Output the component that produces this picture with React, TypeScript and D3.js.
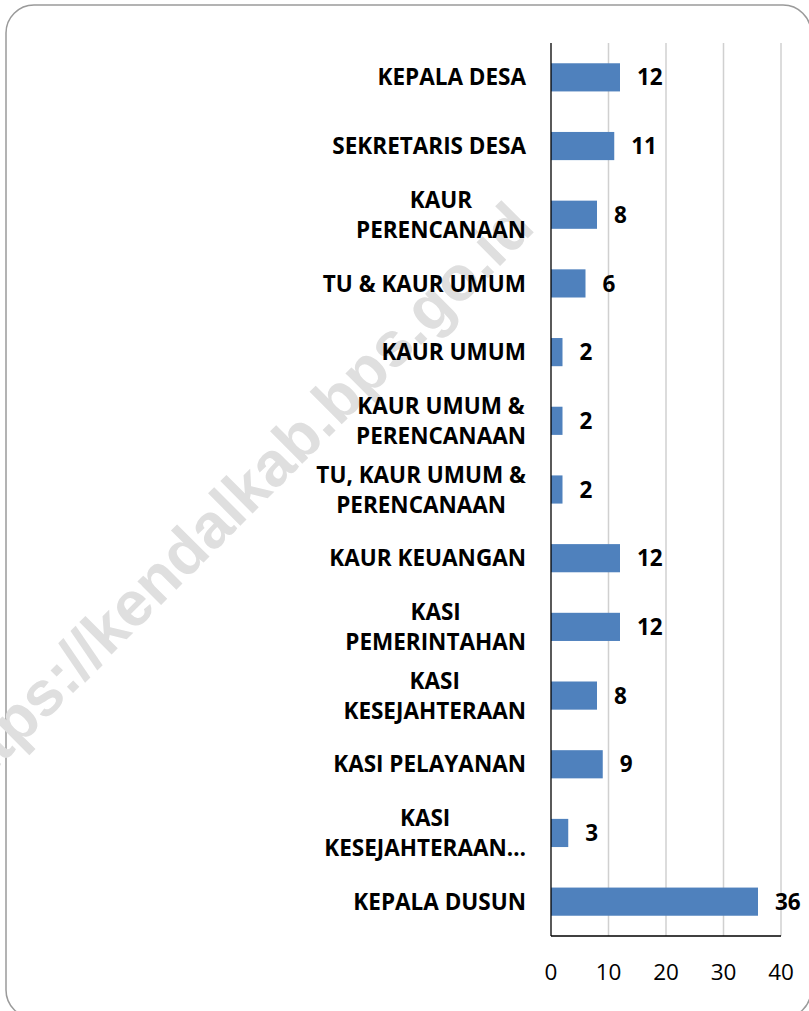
import React, { useEffect, useRef } from "react";
import * as d3 from "d3";

const categories = [
  "KEPALA DESA",
  "SEKRETARIS DESA",
  "KAUR PERENCANAAN",
  "TU & KAUR UMUM",
  "KAUR UMUM",
  "KAUR UMUM & PERENCANAAN",
  "TU, KAUR UMUM & PERENCANAAN",
  "KAUR KEUANGAN",
  "KASI PEMERINTAHAN",
  "KASI KESEJAHTERAAN",
  "KASI PELAYANAN",
  "KASI KESEJAHTERAAN…",
  "KEPALA DUSUN",
];

const labelLines: string[][] = [
  ["KEPALA DESA"],
  ["SEKRETARIS DESA"],
  ["KAUR", "PERENCANAAN"],
  ["TU & KAUR UMUM"],
  ["KAUR UMUM"],
  ["KAUR UMUM &", "PERENCANAAN"],
  ["TU, KAUR UMUM &", "PERENCANAAN"],
  ["KAUR KEUANGAN"],
  ["KASI", "PEMERINTAHAN"],
  ["KASI", "KESEJAHTERAAN"],
  ["KASI PELAYANAN"],
  ["KASI", "KESEJAHTERAAN…"],
  ["KEPALA DUSUN"],
];

const values = [12, 11, 8, 6, 2, 2, 2, 12, 12, 8, 9, 3, 36];

const xTicks = [0, 10, 20, 30, 40];

const watermark = "https://kendalkab.bps.go.id";

const W = 809;
const H = 1011;
const FONT = "'Open Sans', 'DejaVu Sans', sans-serif";

export default function App() {
  const ref = useRef<SVGSVGElement | null>(null);

  useEffect(() => {
    const svg = d3.select(ref.current);
    svg.selectAll("*").remove();

    const x = d3.scaleLinear().domain([0, 40]).range([551, 781]);
    const y = d3
      .scaleBand<string>()
      .domain(categories)
      .range([43, 936])
      .paddingInner(0.59)
      .paddingOuter(0.295);

    // background + border
    svg
      .append("rect")
      .attr("x", 6)
      .attr("y", 5)
      .attr("width", 805)
      .attr("height", 1013)
      .attr("rx", 28)
      .attr("ry", 28)
      .attr("fill", "#ffffff")
      .attr("stroke", "#9a9a9a")
      .attr("stroke-width", 1.5);

    // watermark
    svg
      .append("text")
      .attr("transform", "translate(-40,806) rotate(-45)")
      .attr("font-family", "'Liberation Sans', Arial, sans-serif")
      .attr("font-weight", "bold")
      .attr("font-size", 63)
      .attr("fill", "#dfdfdf")
      .text(watermark);

    // gridlines
    svg
      .append("g")
      .selectAll("line")
      .data(xTicks.slice(1))
      .join("line")
      .attr("x1", (d) => x(d))
      .attr("x2", (d) => x(d))
      .attr("y1", 43)
      .attr("y2", 936)
      .attr("stroke", "#d0d0d0")
      .attr("stroke-width", 1.5);

    // bars
    const data = categories.map((c, i) => ({ c, v: values[i], lines: labelLines[i] }));
    svg
      .append("g")
      .selectAll("rect")
      .data(data)
      .join("rect")
      .attr("x", x(0))
      .attr("y", (d) => y(d.c)!)
      .attr("width", (d) => x(d.v) - x(0))
      .attr("height", y.bandwidth())
      .attr("fill", "#4f81bd");

    // axes lines
    svg
      .append("line")
      .attr("x1", x(0))
      .attr("x2", x(0))
      .attr("y1", 43)
      .attr("y2", 936)
      .attr("stroke", "#000")
      .attr("stroke-width", 1.3);
    svg
      .append("line")
      .attr("x1", x(0))
      .attr("x2", x(40))
      .attr("y1", 936)
      .attr("y2", 936)
      .attr("stroke", "#000")
      .attr("stroke-width", 1.3);

    // tick labels
    svg
      .append("g")
      .selectAll("text")
      .data(xTicks)
      .join("text")
      .attr("x", (d) => x(d))
      .attr("y", 980)
      .attr("text-anchor", "middle")
      .attr("font-family", FONT)
      .attr("font-size", 22.5)
      .attr("fill", "#000")
      .text((d) => String(d));

    // value labels
    svg
      .append("g")
      .selectAll("text")
      .data(data)
      .join("text")
      .attr("x", (d) => x(d.v) + 17)
      .attr("y", (d) => y(d.c)! + y.bandwidth() / 2)
      .attr("dy", "0.36em")
      .attr("font-family", FONT)
      .attr("font-weight", "bold")
      .attr("font-size", 22.5)
      .attr("fill", "#000")
      .text((d) => String(d.v));

    // category labels (multi-line, centered block, right-aligned)
    const labelRight = 526;
    const lineH = 30;
    const lg = svg.append("g");
    data.forEach((d) => {
      const cy = y(d.c)! + y.bandwidth() / 2;
      const n = d.lines.length;
      const texts = d.lines.map((ln, j) =>
        lg
          .append("text")
          .attr("y", cy + (j - (n - 1) / 2) * lineH)
          .attr("dy", "0.36em")
          .attr("text-anchor", "middle")
          .attr("font-family", FONT)
          .attr("font-weight", "bold")
          .attr("font-size", 22.5)
          .attr("fill", "#000")
          .text(ln)
      );
      const widths = texts.map((t) => (t.node() as SVGTextElement).getComputedTextLength());
      const maxW = Math.max(...widths);
      texts.forEach((t) => t.attr("x", labelRight - maxW / 2));
    });
  }, []);

  return (
    <svg
      ref={ref}
      width={W}
      height={H}
      style={{ position: "absolute", left: 0, top: 0, background: "#fff" }}
    />
  );
}
